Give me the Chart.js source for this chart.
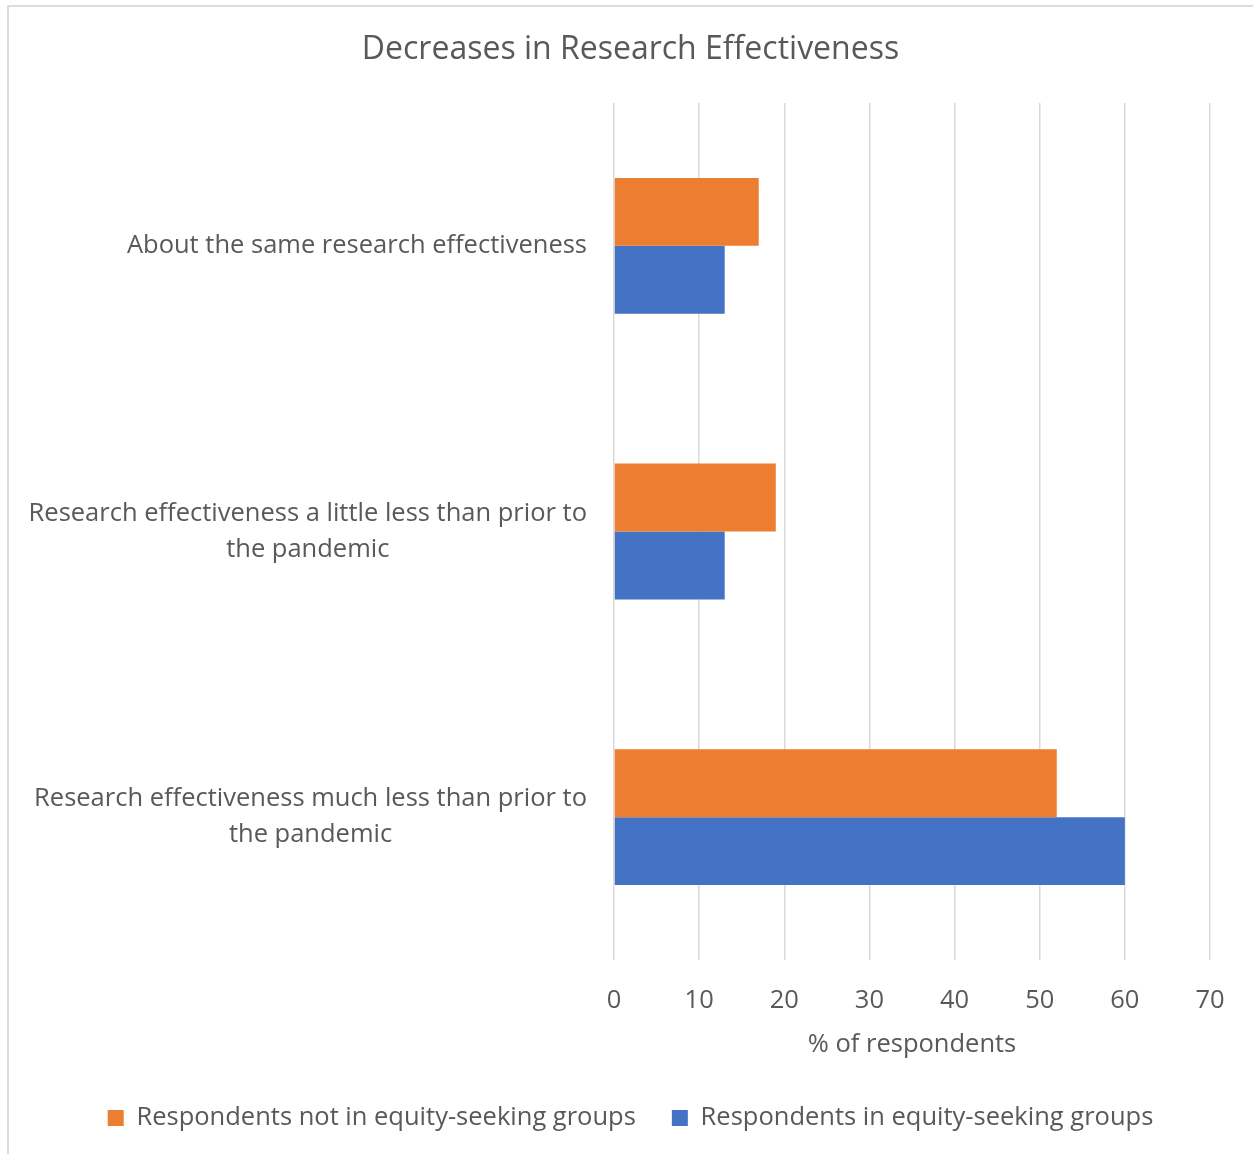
<!DOCTYPE html>
<html>
<head>
<meta charset="utf-8">
<script src="https://cdn.jsdelivr.net/npm/chart.js@4"></script>
<style>
  html, body { margin: 0; padding: 0; background: #ffffff; }
  body { width: 1253px; height: 1154px; position: relative; overflow: hidden; }
  #frame { position: absolute; left: 7px; top: 5px; width: 1300px; height: 1300px;
           border-top: 2px solid #dcdcdc; border-left: 2px solid #dcdcdc; box-sizing: border-box; }
  #wrap { position: absolute; left: 8px; top: 6px; width: 1245px; height: 1148px; }
</style>
</head>
<body>
<div id="frame"></div>
<div id="wrap"><canvas id="c"></canvas></div>
<script>
const chartTitle = "Decreases in Research Effectiveness";
const categories = [
  ["About the same research effectiveness"],
  ["Research effectiveness a little less than prior to", "the pandemic"],
  ["Research effectiveness much less than prior to", "the pandemic"]
];
const seriesNames = ["Respondents not in equity-seeking groups", "Respondents in equity-seeking groups"];
const notEquitySeeking = [17, 19, 52];
const equitySeeking = [13, 13, 60];
const xTicks = [0, 10, 20, 30, 40, 50, 60, 70];
const xTitle = "% of respondents";

const FONT = "'Open Sans', sans-serif";
const TEXT = "#595959";
const LABEL_SIZE = 25.5;

const categoryLabelPlugin = {
  id: 'categoryLabels',
  afterDraw(chart) {
    const ctx = chart.ctx;
    const y = chart.scales.y;
    const area = chart.chartArea;
    ctx.save();
    ctx.font = LABEL_SIZE + "px " + FONT;
    ctx.fillStyle = TEXT;
    ctx.textAlign = 'center';
    ctx.textBaseline = 'middle';
    const right = area.left - 27;
    const lh = 36;
    categories.forEach((lines, i) => {
      const py = y.getPixelForTick(i);
      const w = Math.max(...lines.map(l => ctx.measureText(l).width));
      const cx = right - w / 2;
      const y0 = py - (lines.length - 1) * lh / 2;
      lines.forEach((l, k) => ctx.fillText(l, cx, y0 + k * lh));
    });
    ctx.restore();
  }
};

new Chart(document.getElementById('c'), {
  type: 'bar',
  data: {
    labels: categories.map(c => c.join(' ')),
    datasets: [
      { label: seriesNames[0], data: notEquitySeeking, backgroundColor: '#ED7D31', borderWidth: 0 },
      { label: seriesNames[1], data: equitySeeking, backgroundColor: '#4472C4', borderWidth: 0 }
    ]
  },
  options: {
    indexAxis: 'y',
    responsive: true,
    maintainAspectRatio: false,
    animation: false,
    datasets: { bar: { categoryPercentage: 0.4755, barPercentage: 1.0 } },
    layout: { padding: { left: 0, right: 0, top: 0, bottom: 13.25 } },
    plugins: {
      title: {
        display: true, text: chartTitle, color: TEXT,
        font: { family: FONT, size: 32, weight: 'normal' },
        padding: { top: 25, bottom: 33.6 }
      },
      legend: {
        position: 'bottom',
        labels: {
          color: TEXT, font: { family: FONT, size: LABEL_SIZE },
          boxWidth: 16, boxHeight: 16, padding: 36
        }
      },
      tooltip: { enabled: false }
    },
    scales: {
      x: {
        min: 0, max: 70,
        afterBuildTicks(scale) { scale.ticks = xTicks.map(v => ({ value: v })); },
        afterFit(scale) { scale.height = 109.25; scale.paddingLeft = 0; scale.paddingRight = 43; },
        ticks: { color: TEXT, font: { family: FONT, size: LABEL_SIZE }, padding: 25, maxRotation: 0 },
        grid: { color: '#D9D9D9', lineWidth: 1.5, drawTicks: false },
        border: { display: false },
        title: { display: true, text: xTitle, color: TEXT, font: { family: FONT, size: LABEL_SIZE }, padding: { top: 9, bottom: 9 } }
      },
      y: {
        afterFit(scale) { scale.width = 606; },
        ticks: { display: false },
        grid: { display: false },
        border: { display: false }
      }
    }
  },
  plugins: [categoryLabelPlugin]
});
</script>
</body>
</html>
